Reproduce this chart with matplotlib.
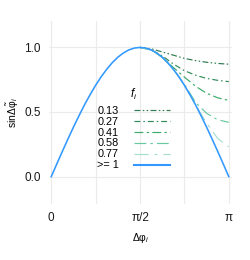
import numpy as np
import matplotlib
matplotlib.use("Agg")
import matplotlib.pyplot as plt
from matplotlib.lines import Line2D

plt.rcParams['font.family'] = ['Liberation Sans', 'DejaVu Sans']
plt.rcParams['mathtext.fontset'] = 'custom'
plt.rcParams['mathtext.rm'] = 'Liberation Sans'
plt.rcParams['mathtext.it'] = 'Liberation Sans:italic'

# data (x in units of pi)
sin_x = [k / 32 for k in range(33)]
half = [0.0, 0.098, 0.195, 0.290, 0.383, 0.471, 0.556, 0.634, 0.707,
        0.773, 0.831, 0.882, 0.924, 0.957, 0.981, 0.995]
sin_y = half + [1.0] + half[::-1]

f_x = [0.5, 0.5625, 0.625, 0.6875, 0.75, 0.8125, 0.875, 0.9375, 1.0]
f_labels = ['0.13', '0.27', '0.41', '0.58', '0.77']
f_curves = [
    [1.0, 0.99, 0.965, 0.94, 0.915, 0.898, 0.885, 0.876, 0.87],
    [1.0, 0.981, 0.935, 0.872, 0.82, 0.785, 0.76, 0.745, 0.735],
    [1.0, 0.981, 0.924, 0.845, 0.77, 0.70, 0.645, 0.61, 0.59],
    [1.0, 0.981, 0.924, 0.831, 0.715, 0.575, 0.49, 0.44, 0.42],
    [1.0, 0.981, 0.924, 0.831, 0.707, 0.556, 0.415, 0.295, 0.23],
]
f_colors = ['#2f7a4f', '#2e8b57', '#3cab6b', '#68c9a0', '#a6e0cf']
f_dashes = [(0, (5, 2, 1.3, 2, 1.3, 2)),
            (0, (5, 2.5, 1.3, 2.5)),
            (0, (7.5, 2.8, 2, 2.8)),
            (0, (10, 3.5, 2, 3.5)),
            (0, (12, 5, 2.5, 5))]
blue = '#3399ff'

fig = plt.figure(figsize=(2.5, 2.6), dpi=100)
ax = fig.add_axes([0.196, 0.215, 0.732, 0.704])

handles = []
for ys, lab, col, ls in zip(f_curves, f_labels, f_colors, f_dashes):
    ax.plot(np.array(f_x) * np.pi, ys, color=col, lw=0.85, linestyle=ls)
    handles.append(Line2D([], [], color=col, lw=0.85, linestyle=ls, label=lab))
ax.plot(np.array(sin_x) * np.pi, sin_y, color=blue, lw=1.15, zorder=3)
handles.append(Line2D([], [], color=blue, lw=1.5, label='>= 1'))

ax.set_xlim(-0.04, np.pi + 0.057)
ax.set_ylim(-0.213, 1.204)
ax.set_xticks([0, np.pi / 2, np.pi])
ax.set_xticklabels(['0', 'π/2', 'π'])
ax.set_xticks([np.pi / 4, 3 * np.pi / 4], minor=True)
ax.set_yticks([0, 0.5, 1.0])
ax.set_yticklabels(['0.0', '0.5', '1.0'])
ax.grid(True, which='both', color='#ebebeb', lw=0.8)
ax.grid(False, which='minor', axis='y')
ax.set_axisbelow(True)
for s in ax.spines.values():
    s.set_visible(False)
ax.tick_params(which='both', length=0, labelsize=8.5, colors='#1a1a1a', pad=6)

ax.set_xlabel(r'$\Delta\mathrm{φ}_i$', fontsize=7.5, labelpad=5)
ax.set_ylabel(r'sin$\Delta\tilde{\mathrm{φ}}_i$', fontsize=7.5, labelpad=2)

leg = ax.legend(handles=handles, loc='upper left', bbox_to_anchor=(0.262, 0.638),
                frameon=False, markerfirst=False, fontsize=7.8,
                title=r'$f_i$', title_fontsize=8.5, handlelength=3.3,
                handleheight=0.6, labelspacing=0.08, borderpad=0,
                borderaxespad=0, handletextpad=1.4)
leg._legend_box.sep = 2.5  # extra gap under the title

fig.savefig('out.png', dpi=100)
